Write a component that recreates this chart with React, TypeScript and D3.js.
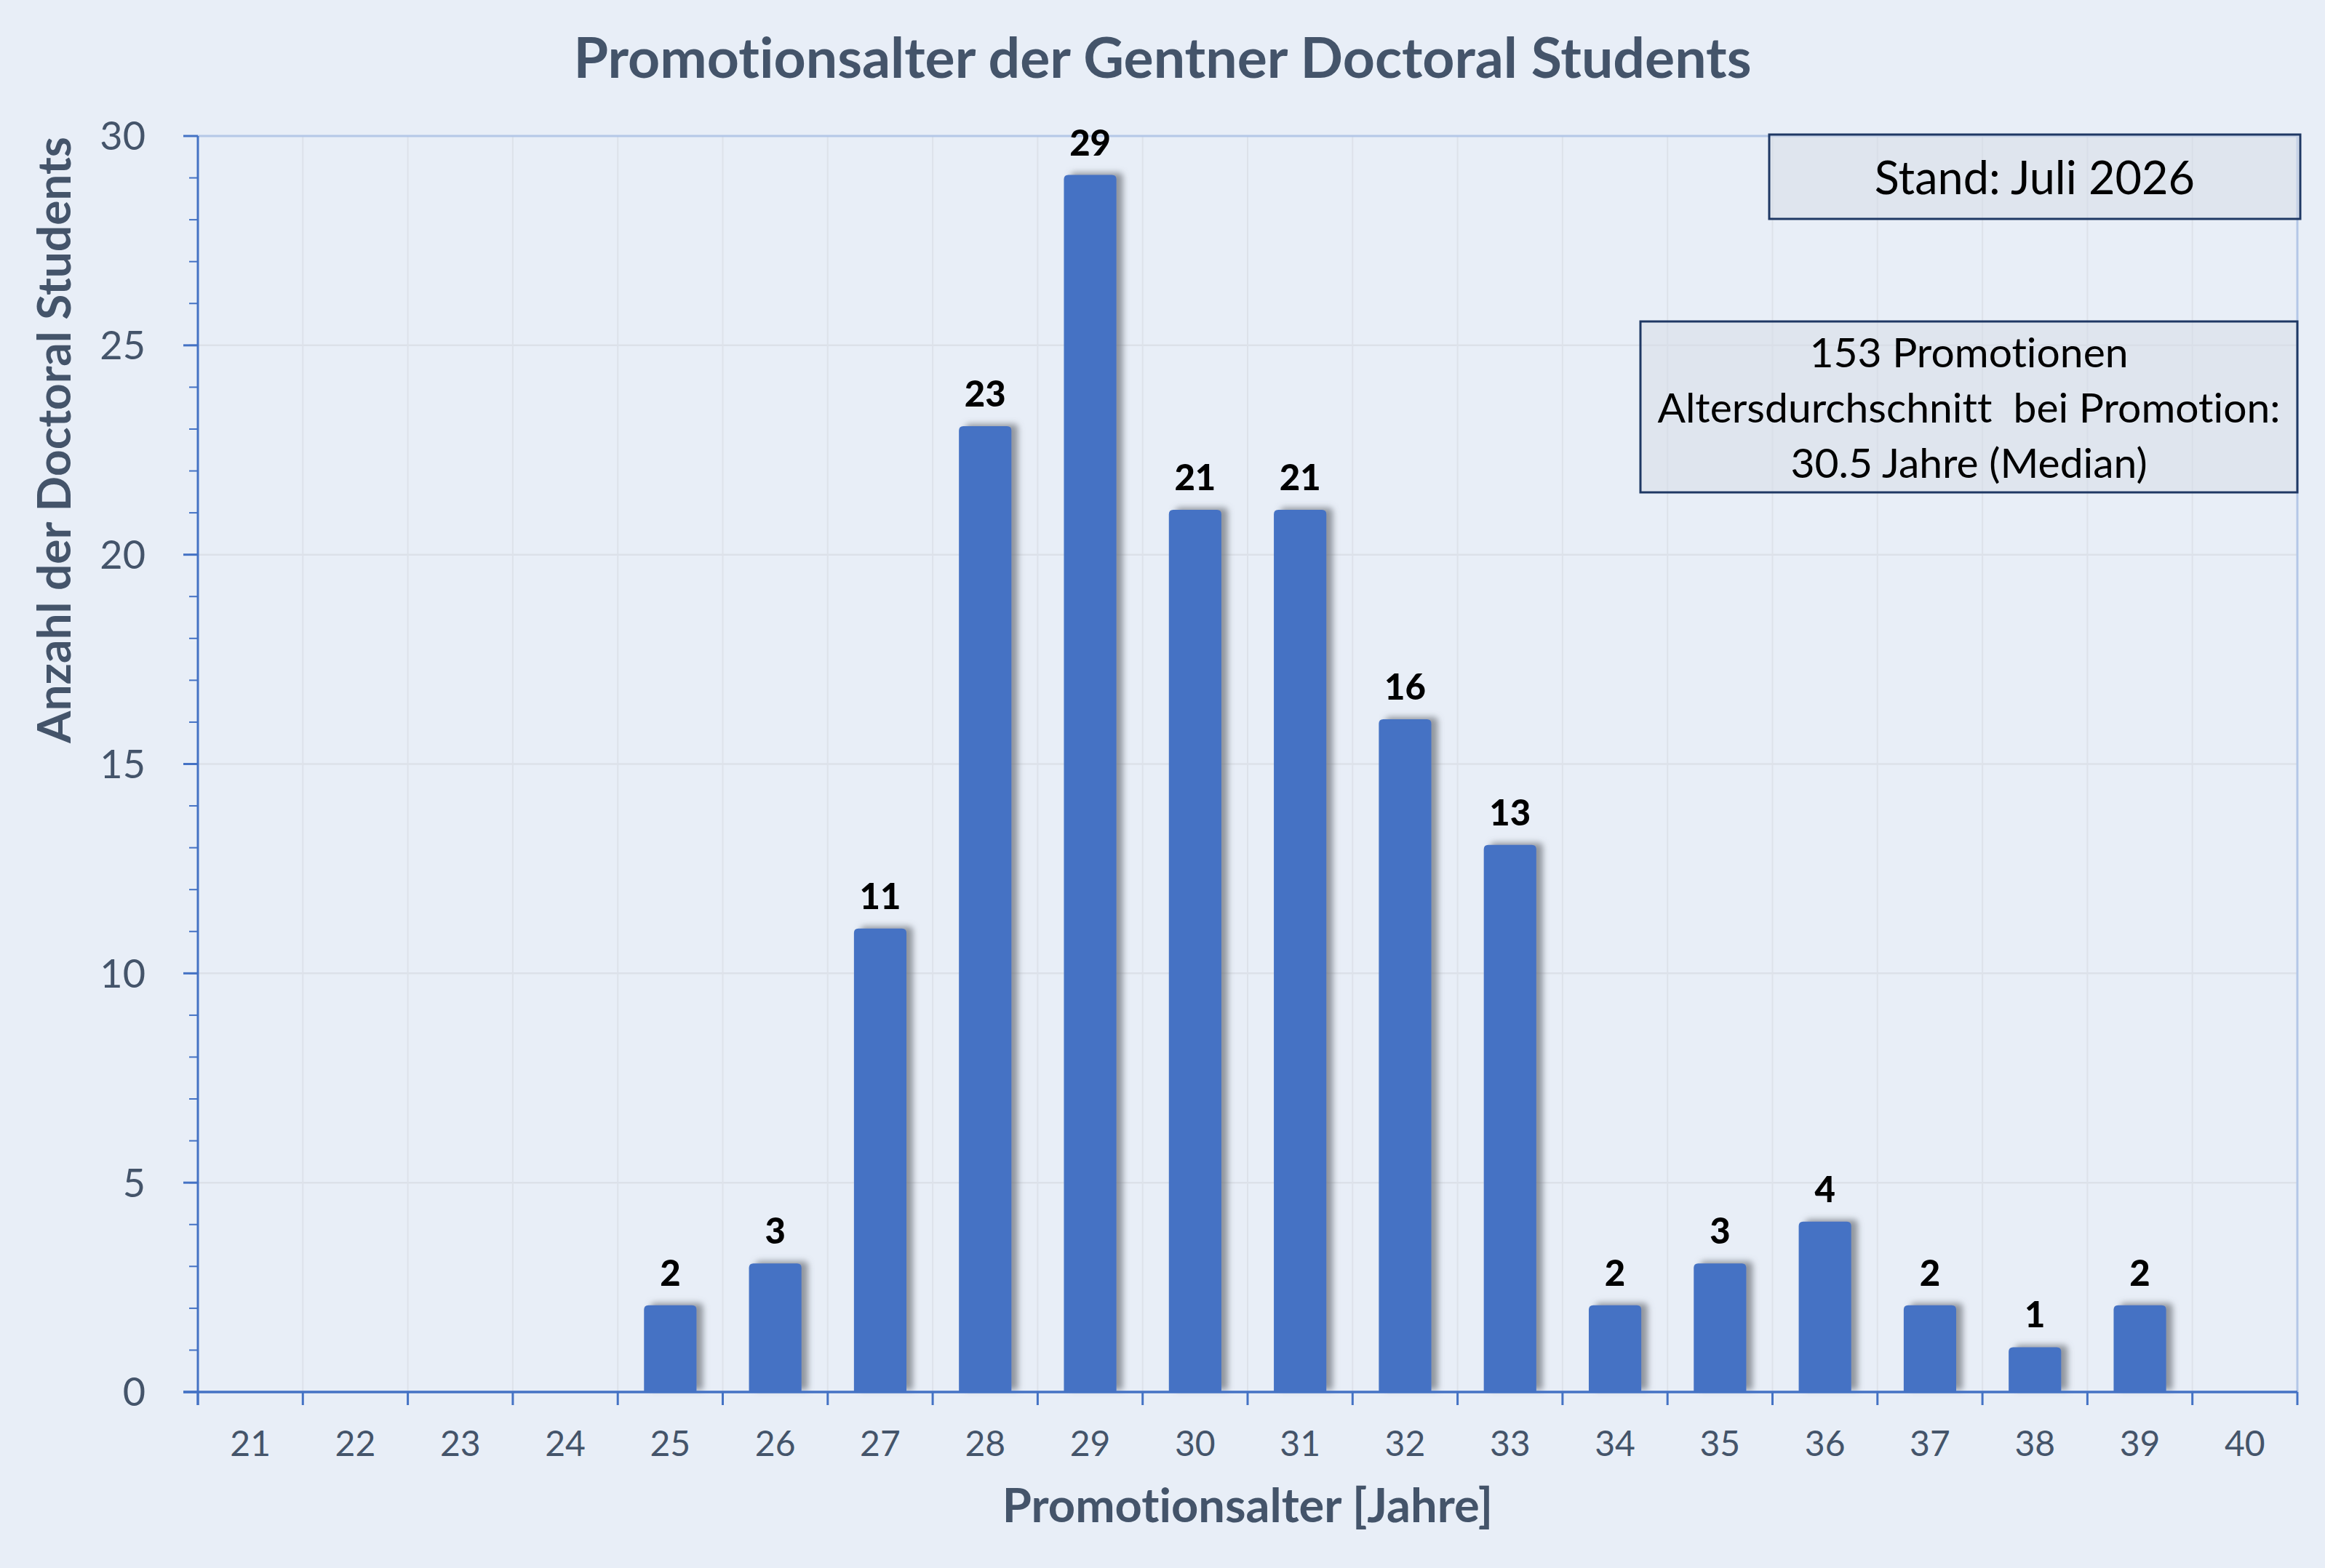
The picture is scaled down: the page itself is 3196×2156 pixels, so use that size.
import React, { useEffect, useRef } from "react"
import * as d3 from "d3"

const ages = ["21", "22", "23", "24", "25", "26", "27", "28", "29", "30", "31", "32", "33", "34", "35", "36", "37", "38", "39", "40"]
const counts = [0, 0, 0, 0, 2, 3, 11, 23, 29, 21, 21, 16, 13, 2, 3, 4, 2, 1, 2, 0]
const yMajorTicks = [0, 5, 10, 15, 20, 25, 30]
const yMinorTicks = d3.range(0, 31)

const title = "Promotionsalter der Gentner Doctoral Students"
const xTitle = "Promotionsalter [Jahre]"
const yTitle = "Anzahl der Doctoral Students"
const standText = "Stand: Juli 2026"
const infoLines = ["153 Promotionen", "Altersdurchschnitt  bei Promotion:", "30.5 Jahre (Median)"]

const W = 3196
const H = 2156
const FONT = "Lato, 'Open Sans', sans-serif"
const AXIS_TEXT = "#44546A"
const BAR = "#4472C4"

const App: React.FC = () => {
  const svgRef = useRef<SVGSVGElement>(null)

  useEffect(() => {
    document.body.style.margin = "0"
    if (!svgRef.current) return
    const svg = d3.select(svgRef.current)
    svg.selectAll("*").remove()
    svg.style("font-variant-ligatures", "none")

    const margin = { top: 187, right: W - 3158, bottom: H - 1914, left: 272 }
    const x0 = margin.left
    const x1 = W - margin.right
    const y0 = H - margin.bottom
    const y1 = margin.top

    const x = d3.scaleBand<string>().domain(ages).range([x0, x1]).paddingInner(0).paddingOuter(0)
    const y = d3.scaleLinear().domain([0, 30]).range([y0, y1])

    const defs = svg.append("defs")
    const shadow = defs
      .append("filter")
      .attr("id", "barShadow")
      .attr("x", "-20%")
      .attr("y", "-20%")
      .attr("width", "160%")
      .attr("height", "140%")
    shadow.append("feGaussianBlur").attr("in", "SourceAlpha").attr("stdDeviation", 4.5).attr("result", "blur")
    shadow.append("feOffset").attr("in", "blur").attr("dx", 9).attr("dy", -3).attr("result", "off")
    shadow.append("feFlood").attr("flood-color", "#6b7078").attr("flood-opacity", 0.7)
    shadow.append("feComposite").attr("in2", "off").attr("operator", "in").attr("result", "sh")
    const merge = shadow.append("feMerge")
    merge.append("feMergeNode").attr("in", "sh")
    merge.append("feMergeNode").attr("in", "SourceGraphic")

    // background
    svg.append("rect").attr("width", W).attr("height", H).attr("fill", "#E8EEF7")

    // gridlines
    const grid = svg.append("g")
    grid
      .selectAll("line.h")
      .data(yMajorTicks.filter((t) => t > 0 && t < 30))
      .join("line")
      .attr("x1", x0)
      .attr("x2", x1)
      .attr("y1", (d) => y(d))
      .attr("y2", (d) => y(d))
      .attr("stroke", "#DCE1E9")
      .attr("stroke-width", 2.5)
    grid
      .selectAll("line.v")
      .data(ages.slice(1))
      .join("line")
      .attr("x1", (d) => x(d)!)
      .attr("x2", (d) => x(d)!)
      .attr("y1", y1)
      .attr("y2", y0)
      .attr("stroke", "#DDE2EA")
      .attr("stroke-width", 2)

    // top and right border
    svg
      .append("path")
      .attr("d", `M${x0},${y1}H${x1}V${y0}`)
      .attr("fill", "none")
      .attr("stroke", "#B4C7E7")
      .attr("stroke-width", 3)

    // bars
    const bw = x.bandwidth() * 0.5
    const r = 6
    svg
      .append("g")
      .selectAll("path")
      .data(counts.map((c, i) => ({ age: ages[i], c })).filter((d) => d.c > 0))
      .join("path")
      .attr("filter", "url(#barShadow)")
      .attr("fill", BAR)
      .attr("d", (d) => {
        const bx = x(d.age)! + (x.bandwidth() - bw) / 2
        const top = y(d.c) - 4
        return `M${bx},${y0}V${top + r}Q${bx},${top} ${bx + r},${top}H${bx + bw - r}Q${bx + bw},${top} ${bx + bw},${top + r}V${y0}Z`
      })

    // data labels
    svg
      .append("g")
      .selectAll("text")
      .data(counts.map((c, i) => ({ age: ages[i], c })).filter((d) => d.c > 0))
      .join("text")
      .attr("x", (d) => x(d.age)! + x.bandwidth() / 2)
      .attr("y", (d) => y(d.c) - 31)
      .attr("text-anchor", "middle")
      .attr("font-family", FONT)
      .attr("font-weight", 900)
      .attr("font-size", 49)
      .attr("fill", "#000")
      .text((d) => d.c)

    // y axis
    const yAxis = svg.append("g")
    yAxis
      .selectAll("line.minor")
      .data(yMinorTicks)
      .join("line")
      .attr("x1", x0 - 12)
      .attr("x2", x0)
      .attr("y1", (d) => y(d))
      .attr("y2", (d) => y(d))
      .attr("stroke", BAR)
      .attr("stroke-width", 2)
    yAxis
      .selectAll("line.major")
      .data(yMajorTicks)
      .join("line")
      .attr("x1", x0 - 20)
      .attr("x2", x0)
      .attr("y1", (d) => y(d))
      .attr("y2", (d) => y(d))
      .attr("stroke", BAR)
      .attr("stroke-width", 3)
    yAxis
      .append("line")
      .attr("x1", x0)
      .attr("x2", x0)
      .attr("y1", y1)
      .attr("y2", y0 + 18)
      .attr("stroke", BAR)
      .attr("stroke-width", 3)
    yAxis
      .selectAll("text")
      .data(yMajorTicks)
      .join("text")
      .attr("x", 200)
      .attr("y", (d) => y(d))
      .attr("dy", "0.36em")
      .attr("text-anchor", "end")
      .attr("font-family", FONT)
      .attr("font-size", 54)
      .attr("fill", AXIS_TEXT)
      .text((d) => d)

    // x axis
    const xAxis = svg.append("g")
    xAxis
      .append("line")
      .attr("x1", x0 - 20)
      .attr("x2", x1)
      .attr("y1", y0)
      .attr("y2", y0)
      .attr("stroke", BAR)
      .attr("stroke-width", 3.5)
    xAxis
      .selectAll("line.tick")
      .data([...ages.map((a) => x(a)!), x1])
      .join("line")
      .attr("x1", (d) => d)
      .attr("x2", (d) => d)
      .attr("y1", y0)
      .attr("y2", y0 + 18)
      .attr("stroke", BAR)
      .attr("stroke-width", 3)
    xAxis
      .selectAll("text")
      .data(ages)
      .join("text")
      .attr("x", (d) => x(d)! + x.bandwidth() / 2)
      .attr("y", 2002)
      .attr("text-anchor", "middle")
      .attr("font-family", FONT)
      .attr("font-size", 48)
      .attr("fill", AXIS_TEXT)
      .text((d) => d)

    // titles
    svg
      .append("text")
      .attr("x", W / 2)
      .attr("y", 107)
      .attr("text-anchor", "middle")
      .attr("font-family", FONT)
      .attr("font-weight", 700)
      .attr("font-size", 77)
      .attr("fill", AXIS_TEXT)
      .text(title)
    svg
      .append("text")
      .attr("x", (x0 + x1) / 2)
      .attr("y", 2093)
      .attr("text-anchor", "middle")
      .attr("font-family", FONT)
      .attr("font-weight", 700)
      .attr("font-size", 65)
      .attr("fill", AXIS_TEXT)
      .text(xTitle)
    svg
      .append("text")
      .attr("transform", `translate(97,605) rotate(-90)`)
      .attr("text-anchor", "middle")
      .attr("font-family", FONT)
      .attr("font-weight", 700)
      .attr("font-size", 64)
      .attr("fill", AXIS_TEXT)
      .text(yTitle)

    // annotation boxes
    const boxFill = "rgba(214,220,229,0.5)"
    svg
      .append("rect")
      .attr("x", 2432)
      .attr("y", 185)
      .attr("width", 3162 - 2432)
      .attr("height", 301 - 185)
      .attr("fill", boxFill)
      .attr("stroke", "#1F3864")
      .attr("stroke-width", 3)
    svg
      .append("text")
      .attr("x", (2432 + 3162) / 2)
      .attr("y", 267)
      .attr("text-anchor", "middle")
      .attr("font-family", FONT)
      .attr("font-size", 63)
      .attr("fill", "#000")
      .text(standText)

    svg
      .append("rect")
      .attr("x", 2255)
      .attr("y", 442)
      .attr("width", 3158 - 2255)
      .attr("height", 677 - 442)
      .attr("fill", boxFill)
      .attr("stroke", "#1F3864")
      .attr("stroke-width", 3)
    svg
      .append("g")
      .selectAll("text")
      .data(infoLines)
      .join("text")
      .attr("x", (2255 + 3158) / 2)
      .attr("y", (_, i) => 505 + i * 76)
      .attr("text-anchor", "middle")
      .attr("font-family", FONT)
      .attr("font-size", 57)
      .attr("fill", "#000")
      .style("white-space", "pre")
      .text((d) => d)
  }, [])

  return <svg ref={svgRef} width={W} height={H} style={{ display: "block" }} />
}

export default App
